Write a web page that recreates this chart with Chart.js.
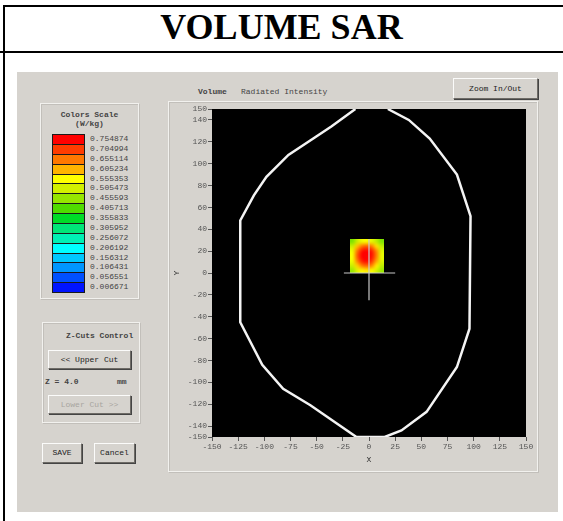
<!DOCTYPE html>
<html>
<head>
<meta charset="utf-8">
<script src="https://cdn.jsdelivr.net/npm/chart.js@4.4.0/dist/chart.umd.min.js"></script>
<style>
body { margin:0; width:563px; height:521px; background:#fff; position:relative; overflow:hidden;
       font-family:"Liberation Mono", "DejaVu Sans Mono", monospace; font-size:8px; color:#333; }
.abs { position:absolute; }
.line { position:absolute; background:#000; }
#title { left:0; top:6px; width:563px; height:46px; line-height:48px; text-align:center;
         font:bold 36px "Liberation Serif", serif; color:#000; }
#shot { left:17px; top:72px; width:541px; height:440px; background:#d6d3ce; }
.panel { position:absolute; border:1px solid #f2f1ee; box-shadow:inset 1px 1px 0 #c2bfba, 1px 1px 0 #c2bfba; }
.btn { position:absolute; background:#d6d3ce; border:1px solid; border-color:#fbfbfa #6e6b66 #6e6b66 #fbfbfa;
       box-shadow:1px 1px 0 #444; text-align:center; font-size:8px; color:#222; }
.cell { position:absolute; left:0; width:31px; border:1px solid #1a1a1a; }
.lab { position:absolute; font-size:8px; color:#444; white-space:pre; }
canvas { position:absolute; }
</style>
</head>
<body>
<div class="line" style="left:3px;top:5px;width:560px;height:2px"></div>
<div class="line" style="left:3px;top:5px;width:2px;height:516px"></div>
<div class="line" style="left:0;top:51px;width:563px;height:2px"></div>
<div id="title" class="abs">VOLUME SAR</div>

<div id="shot" class="abs"></div>

<!-- colour scale panel -->
<div class="panel" style="left:40px;top:103px;width:97px;height:194px"></div>
<div class="lab" style="left:40px;top:110px;width:99px;text-align:center;font-weight:bold">Colors Scale</div>
<div class="lab" style="left:40px;top:119px;width:99px;text-align:center;font-weight:bold">(W/kg)</div>
<div id="bar" class="abs" style="left:52px;top:134px;width:33px;height:158px"></div>
<div id="barLabels" class="abs" style="left:90px;top:134px;width:45px;height:158px"></div>

<!-- z-cuts panel -->
<div class="panel" style="left:42px;top:322px;width:96px;height:99px"></div>
<div class="lab" style="left:66px;top:331px;font-weight:bold">Z-Cuts Control</div>
<div class="btn" style="left:48px;top:350px;width:81px;height:17px;line-height:17px">&lt;&lt; Upper Cut</div>
<div class="lab" style="left:45px;top:377px;font-weight:bold">Z = 4.0</div>
<div class="lab" style="left:117px;top:377px;font-weight:bold">mm</div>
<div class="btn" style="left:48px;top:395px;width:81px;height:17px;line-height:17px;color:#a8a5a0">Lower Cut &gt;&gt;</div>

<div class="btn" style="left:42px;top:443px;width:38px;height:18px;line-height:18px">SAVE</div>
<div class="btn" style="left:94px;top:443px;width:39px;height:18px;line-height:18px">Cancel</div>

<!-- plot frame -->
<div class="lab" style="left:198px;top:87px;font-weight:bold">Volume</div>
<div class="lab" style="left:241px;top:87px">Radiated Intensity</div>
<div class="btn" style="left:453px;top:78px;width:83px;height:19px;line-height:19px">Zoom In/Out</div>
<div class="panel" style="left:168px;top:101px;width:368px;height:369px"></div>
<canvas id="chart" width="369" height="370" style="left:168px;top:101px"></canvas>

<script>
// colour scale (W/kg), top to bottom
const scaleValues = [0.754874, 0.704994, 0.655114, 0.605234, 0.555353, 0.505473, 0.455593, 0.405713,
                     0.355833, 0.305952, 0.256072, 0.206192, 0.156312, 0.106431, 0.056551, 0.006671];
const scaleColors = ['#ff0000', '#ff3c00', '#ff7800', '#ffb400', '#ffff00', '#d2f000', '#96e600', '#50dc00',
                     '#00dc28', '#00e678', '#00f0b4', '#00ffff', '#00c8ff', '#0096ff', '#0050ff', '#0014ff'];

// axis ticks
const xTicks = [-150, -125, -100, -75, -50, -25, 0, 25, 50, 75, 100, 125, 150];
const yTicks = [150, 140, 120, 100, 80, 60, 40, 20, 0, -20, -40, -60, -80, -100, -120, -140, -150];

// phantom outline (mm)
const outlineX = [-13, -36, -50, -77, -98, -110, -123, -123, -102, -82, -56, -12, 15, 31, 55, 84, 96, 97, 84, 58, 38, 18];
const outlineY = [150, 134, 125, 108, 88, 71, 48, -45, -84, -106, -121, -150, -150, -144, -127, -86, -51, 52, 90, 123, 140, 150];

// cross hair
const crossHX = [-24, 25], crossHY = [0, 0];
const crossVX = [0, 0], crossVY = [-25, 31];

// hot spot box and SAR grid inside it (rows from top)
const spotX = [-18, 14];
const spotY = [0, 31];
const spotGrid = [
    [0.44, 0.50, 0.54, 0.55, 0.53, 0.49, 0.44],
    [0.50, 0.60, 0.66, 0.68, 0.65, 0.58, 0.49],
    [0.54, 0.66, 0.74, 0.76, 0.73, 0.64, 0.52],
    [0.55, 0.68, 0.76, 0.77, 0.74, 0.65, 0.53],
    [0.54, 0.65, 0.73, 0.75, 0.71, 0.62, 0.52],
    [0.50, 0.59, 0.65, 0.67, 0.64, 0.57, 0.49],
    [0.46, 0.52, 0.56, 0.57, 0.55, 0.51, 0.46]
];

// build the colour bar
const bar = document.getElementById('bar');
const barLabels = document.getElementById('barLabels');
const cellH = 158 / scaleValues.length;
scaleValues.forEach((v, i) => {
    const c = document.createElement('div');
    c.className = 'cell';
    c.style.top = (i * cellH) + 'px';
    c.style.height = (cellH - 1) + 'px';
    c.style.background = scaleColors[i];
    bar.appendChild(c);
    const l = document.createElement('div');
    l.className = 'lab';
    l.style.top = (i * cellH) + 'px';
    l.textContent = v.toFixed(6);
    barLabels.appendChild(l);
});

const hexToRgb = (h) => [1, 3, 5].map(i => parseInt(h.substr(i, 2), 16));

// value -> colour along the scale
const colorFor = (v) => {
    const lo = scaleValues[scaleValues.length - 1], hi = scaleValues[0];
    let t = (hi - v) / (hi - lo) * (scaleValues.length - 1);
    t = Math.max(0, Math.min(scaleValues.length - 1, t));
    const i = Math.min(Math.floor(t), scaleValues.length - 2);
    const f = t - i;
    const a = hexToRgb(scaleColors[i]), b = hexToRgb(scaleColors[i + 1]);
    return a.map((c, k) => Math.round(c + (b[k] - c) * f));
};

// black plot area + hot spot image
const heatPlugin = {
    id: 'heat',
    beforeDatasetsDraw(chart) {
        const { ctx, chartArea: a, scales: { x, y } } = chart;
        ctx.save();
        ctx.fillStyle = '#000';
        ctx.fillRect(a.left, a.top, a.width, a.height);

        const rows = spotGrid.length, cols = spotGrid[0].length;
        const off = document.createElement('canvas');
        off.width = cols; off.height = rows;
        const octx = off.getContext('2d');
        const img = octx.createImageData(cols, rows);
        spotGrid.forEach((row, r) => row.forEach((v, c) => {
            const rgb = colorFor(v);
            const k = (r * cols + c) * 4;
            img.data[k] = rgb[0]; img.data[k + 1] = rgb[1]; img.data[k + 2] = rgb[2]; img.data[k + 3] = 255;
        }));
        octx.putImageData(img, 0, 0);

        const x0 = x.getPixelForValue(spotX[0]), x1 = x.getPixelForValue(spotX[1]);
        const y0 = y.getPixelForValue(spotY[1]), y1 = y.getPixelForValue(spotY[0]);
        ctx.imageSmoothingEnabled = true;
        ctx.imageSmoothingQuality = 'high';
        ctx.drawImage(off, x0, y0, x1 - x0, y1 - y0);
        ctx.restore();
    }
};

const toPts = (xs, ys) => xs.map((v, i) => ({ x: v, y: ys[i] }));
const tickFont = { family: 'Liberation Mono', size: 8 };

new Chart(document.getElementById('chart'), {
    type: 'scatter',
    data: {
        datasets: [
            { data: toPts(outlineX, outlineY), showLine: true, borderColor: '#f4f4f4', borderWidth: 2.5,
              pointRadius: 0, tension: 0 },
            { data: toPts(crossHX, crossHY), showLine: true, borderColor: '#c8c8c8', borderWidth: 1.2, pointRadius: 0 },
            { data: toPts(crossVX, crossVY), showLine: true, borderColor: '#c8c8c8', borderWidth: 1.2, pointRadius: 0 }
        ]
    },
    options: {
        responsive: false,
        animation: false,
        layout: { autoPadding: false, padding: { top: 8, right: 11, left: 0, bottom: 0 } },
        plugins: { legend: { display: false }, tooltip: { enabled: false } },
        scales: {
            x: {
                type: 'linear', min: -150, max: 150,
                afterBuildTicks: s => { s.ticks = xTicks.map(v => ({ value: v })); },
                afterFit: s => { s.height = 34; },
                grid: { drawOnChartArea: false, drawTicks: true, tickLength: 4, tickColor: '#555' },
                border: { display: false },
                ticks: { font: tickFont, color: '#555', padding: 1, maxRotation: 0, autoSkip: false },
                title: { display: true, text: 'X', font: tickFont, color: '#333', padding: { top: 0, bottom: 6 } }
            },
            y: {
                type: 'linear', min: -150, max: 150,
                afterBuildTicks: s => { s.ticks = yTicks.map(v => ({ value: v })); },
                afterFit: s => { s.width = 44; },
                grid: { drawOnChartArea: false, drawTicks: true, tickLength: 4, tickColor: '#555' },
                border: { display: false },
                ticks: { font: tickFont, color: '#555', padding: 1, autoSkip: false },
                title: { display: true, text: 'Y', font: tickFont, color: '#333', padding: { top: 4, bottom: 0 } }
            }
        }
    },
    plugins: [heatPlugin]
});
</script>
</body>
</html>
